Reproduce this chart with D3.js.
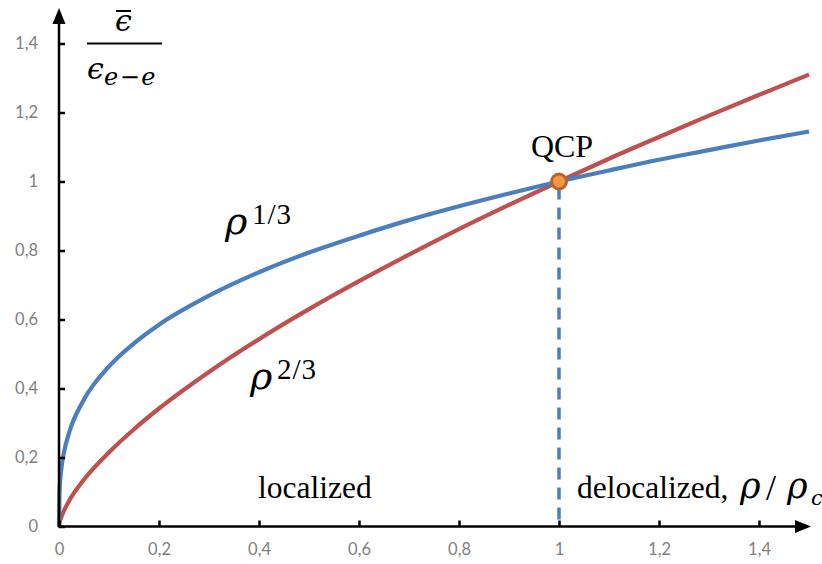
<!DOCTYPE html>
<html>
<head>
<meta charset="utf-8">
<script src="https://cdn.jsdelivr.net/npm/d3@7"></script>
<style>
  html, body { margin: 0; padding: 0; background: #fff; }
  svg { display: block; }
</style>
</head>
<body>
<svg id="chart" width="822" height="564"></svg>
<script>
// Density ratio rho/rho_c
const rho = [0, 0.001, 0.005, 0.01, 0.02, 0.05, 0.1, 0.15, 0.2, 0.3, 0.4, 0.5, 0.6, 0.7, 0.8, 0.9, 1.0, 1.1, 1.2, 1.3, 1.4, 1.5];
// Energy ratio for the rho^(1/3) branch
const energyOneThird = [0, 0.10, 0.171, 0.215, 0.271, 0.368, 0.464, 0.531, 0.585, 0.669, 0.737, 0.794, 0.843, 0.888, 0.928, 0.965, 1.0, 1.032, 1.063, 1.091, 1.119, 1.145];
// Energy ratio for the rho^(2/3) branch
const energyTwoThirds = [0, 0.01, 0.029, 0.046, 0.074, 0.136, 0.215, 0.282, 0.342, 0.448, 0.543, 0.630, 0.711, 0.788, 0.862, 0.932, 1.0, 1.066, 1.129, 1.191, 1.251, 1.310];
// Quantum critical point
const qcp = { x: 1, y: 1 };
// Tick labels
const xTicks = [0, 0.2, 0.4, 0.6, 0.8, 1, 1.2, 1.4];
const yTicks = [0, 0.2, 0.4, 0.6, 0.8, 1, 1.2, 1.4];

const svg = d3.select("#chart");
const x = d3.scaleLinear().domain([0, 1.5]).range([59, 809]);
const y = d3.scaleLinear().domain([0, 1.4]).range([526.5, 43.5]);
const fmt = v => String(v).replace(".", ",");

const blue = "#4a7ebf", red = "#c0504d";

// Curves
const line = d3.line().x(d => x(d[0])).y(d => y(d[1])).curve(d3.curveMonotoneX);
svg.append("path")
  .datum(rho.map((r, i) => [r, energyTwoThirds[i]]))
  .attr("d", line).attr("fill", "none").attr("stroke", red).attr("stroke-width", 4.2);
svg.append("path")
  .datum(rho.map((r, i) => [r, energyOneThird[i]]))
  .attr("d", line).attr("fill", "none").attr("stroke", blue).attr("stroke-width", 4.2);

// Dashed drop line at the critical point
svg.append("line")
  .attr("x1", x(qcp.x)).attr("x2", x(qcp.x))
  .attr("y1", y(qcp.y) + 6).attr("y2", y(0))
  .attr("stroke", blue).attr("stroke-width", 3.5).attr("stroke-dasharray", "12,8");

// Axes
const xAxis = d3.axisBottom(x).tickValues(xTicks).tickSize(-6).tickPadding(17).tickFormat(fmt);
const gx = svg.append("g").attr("transform", `translate(0,${y(0)})`).call(xAxis);
gx.select(".domain").remove();
const yAxis = d3.axisLeft(y).tickValues(yTicks).tickSize(-6).tickPadding(21).tickFormat(fmt);
const gy = svg.append("g").attr("transform", `translate(${x(0)},0)`).call(yAxis);
gy.select(".domain").remove();
svg.selectAll(".tick line").attr("stroke", "#000").attr("stroke-width", 2.5);
svg.selectAll(".tick text").attr("fill", "#808080").attr("font-family", "Lato, 'Open Sans', sans-serif").attr("font-size", 16.5);

// Axis lines with arrows
svg.append("line").attr("x1", x(0)).attr("x2", 800).attr("y1", y(0)).attr("y2", y(0))
  .attr("stroke", "#000").attr("stroke-width", 2.5);
svg.append("path").attr("d", `M811,${y(0)} L795,${y(0) - 6.5} L795,${y(0) + 6.5} Z`).attr("fill", "#000");
svg.append("line").attr("x1", x(0)).attr("x2", x(0)).attr("y1", y(0) + 1).attr("y2", 20)
  .attr("stroke", "#000").attr("stroke-width", 2.5);
svg.append("path").attr("d", `M${x(0)},8 L${x(0) - 6.5},24 L${x(0) + 6.5},24 Z`).attr("fill", "#000");

// Critical point marker
svg.append("circle").attr("cx", x(qcp.x)).attr("cy", y(qcp.y)).attr("r", 7.5)
  .attr("fill", "#f79646").attr("stroke", "#b5652a").attr("stroke-width", 3);

const serif = "'Liberation Serif', 'DejaVu Serif', serif";
const mathFont = "'DejaVu Serif', 'Liberation Serif', serif";
svg.append("text").attr("x", 562).attr("y", 157).attr("text-anchor", "middle")
  .attr("font-family", serif).attr("font-size", 32).text("QCP");

const mathText = (tx, ty, size, s, italic, family) => svg.append("text").attr("x", tx).attr("y", ty)
  .attr("font-family", family || mathFont).attr("font-size", size)
  .attr("font-style", italic ? "italic" : "normal").text(s);

// Curve labels
function powerLabel(px, py, supX, supY, exp) {
  mathText(px, py, 38, "ρ", true);
  mathText(supX, supY, 29, exp, false, serif).attr("letter-spacing", 1);
}
powerLabel(225, 234, 252, 224, "1/3");
powerLabel(250, 389, 277, 379, "2/3");

// Region labels
svg.append("text").attr("x", 258).attr("y", 498).attr("font-family", serif).attr("font-size", 31.5).text("localized");
svg.append("text").attr("x", 577).attr("y", 498).attr("font-family", serif).attr("font-size", 31.5).text("delocalized,");
mathText(740, 498, 35, "ρ", true);
mathText(766, 500, 36, "/", false, serif);
mathText(787, 498, 35, "ρ", true);
mathText(811, 505, 21, "c", true);

// Y-axis label: energy fraction
svg.append("line").attr("x1", 87).attr("x2", 162).attr("y1", 43.5).attr("y2", 43.5).attr("stroke", "#000").attr("stroke-width", 2);
mathText(115, 31, 30, "ϵ", true);
svg.append("line").attr("x1", 116).attr("x2", 131).attr("y1", 11).attr("y2", 11).attr("stroke", "#000").attr("stroke-width", 2);
mathText(87, 79, 30, "ϵ", true);
mathText(104, 85, 24, "e−e", true).attr("letter-spacing", 1.5);
</script>
</body>
</html>
